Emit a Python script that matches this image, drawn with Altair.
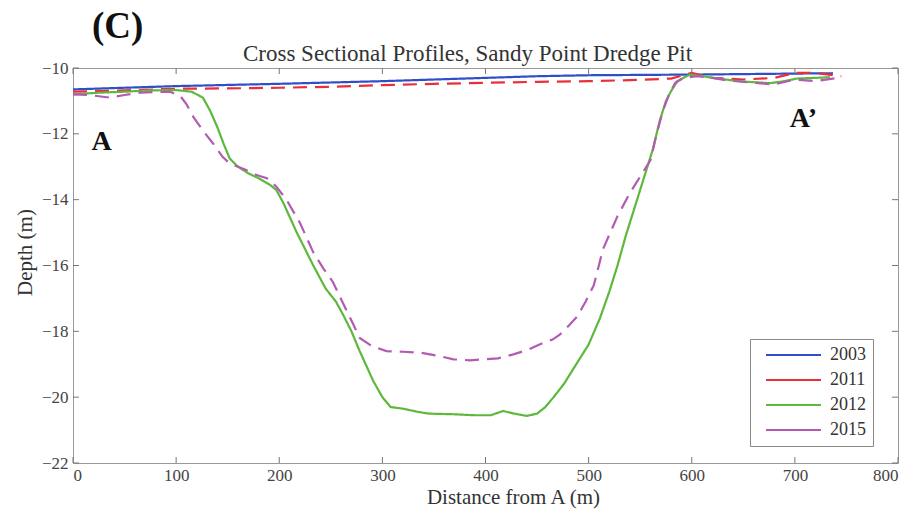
import altair as alt
import pandas as pd

years = ["2003", "2011", "2012", "2015"]
colors = ["#2f4fc9", "#e8303a", "#5db83c", "#b35bb3"]
styles = ["solid", "dashed", "solid", "dashed"]

x_2003 = [0, 100, 200, 300, 400, 450, 500, 600, 700, 737]
y_2003 = [-10.65, -10.55, -10.48, -10.4, -10.3, -10.25, -10.22, -10.2, -10.17, -10.16]

x_2011 = [0, 50, 100, 150, 200, 250, 300, 350, 400, 450, 500, 550, 580, 600, 620, 650, 680, 700, 720, 745]
y_2011 = [-10.72, -10.68, -10.63, -10.62, -10.6, -10.57, -10.52, -10.48, -10.45, -10.42, -10.4, -10.36, -10.32,
          -10.15, -10.3, -10.35, -10.3, -10.15, -10.15, -10.25]

x_2012 = [0, 25, 50, 75, 100, 115, 126, 133, 140, 146, 152, 160, 170, 180, 191, 197, 204, 217, 233, 245, 255,
          262, 270, 278, 291, 300, 308, 320, 335, 345, 370, 390, 405, 417, 428, 440, 450, 458, 466, 476, 488,
          500, 511, 520, 528, 536, 547, 553, 562, 569, 575, 580, 586, 598, 610, 621, 640, 654, 676, 690, 702,
          720, 734]
y_2012 = [-10.8, -10.75, -10.72, -10.68, -10.67, -10.72, -10.9, -11.3, -11.8, -12.3, -12.75, -13.0, -13.2,
          -13.35, -13.55, -13.7, -14.1, -15.0, -16.0, -16.7, -17.1, -17.5, -18.0, -18.6, -19.5, -20.0, -20.3,
          -20.35, -20.45, -20.5, -20.52, -20.55, -20.55, -20.42, -20.5, -20.57, -20.5, -20.3, -20.0, -19.6,
          -19.0, -18.4, -17.6, -16.8, -16.0, -15.1, -14.0, -13.4, -12.5, -11.6, -11.0, -10.7, -10.4, -10.2,
          -10.25, -10.3, -10.38, -10.42, -10.46, -10.4, -10.32, -10.3, -10.28]

x_2015 = [0, 15, 36, 50, 65, 80, 94, 104, 110, 117, 126, 136, 145, 152, 160, 168, 178, 188, 197, 207, 220,
          233, 243, 252, 265, 272, 278, 290, 304, 320, 337, 355, 369, 385, 398, 412, 427, 442, 456, 465, 472,
          480, 489, 497, 505, 514, 521, 528, 540, 550, 560, 566, 572, 578, 584, 592, 605, 620, 635, 660, 680,
          700, 720, 741]
y_2015 = [-10.8, -10.82, -10.9, -10.82, -10.75, -10.73, -10.72, -10.85, -11.1, -11.5, -11.9, -12.3, -12.7,
          -12.9, -13.0, -13.1, -13.25, -13.35, -13.6, -14.0, -14.7, -15.6, -16.1, -16.5, -17.35, -17.8, -18.2,
          -18.45, -18.6, -18.62, -18.65, -18.75, -18.85, -18.88, -18.85, -18.82, -18.7, -18.55, -18.35,
          -18.25, -18.1, -17.85, -17.55, -17.1, -16.6, -15.5, -15.0, -14.5, -13.8, -13.3, -12.8, -12.0,
          -11.3, -10.8, -10.45, -10.3, -10.25, -10.3, -10.38, -10.45, -10.5, -10.35, -10.4, -10.3]

x_ticks = [0, 100, 200, 300, 400, 500, 600, 700, 800]
y_ticks = [-22, -20, -18, -16, -14, -12, -10]

label_text = ["A", "A\u2019"]
label_x = [18, 695]
label_y = [-12.49, -11.79]

title_text = "Cross Sectional Profiles, Sandy Point Dredge Pit"
panel_text = "(C)"

series = [(years[0], x_2003, y_2003, styles[0]), (years[1], x_2011, y_2011, styles[1]),
          (years[2], x_2012, y_2012, styles[2]), (years[3], x_2015, y_2015, styles[3])]
rows = []
for yr, xs, ys, st in series:
    for i, (xv, yv) in enumerate(zip(xs, ys)):
        rows.append({"year": yr, "distance": xv, "depth": yv, "style": st, "i": i})
df = pd.DataFrame(rows)

W, H = 825, 395
FONT = "Liberation Serif"
xscale = alt.Scale(domain=[0, 800], nice=False, zero=False)
yscale = alt.Scale(domain=[-22, -10], nice=False, zero=False)

lines = alt.Chart(df).mark_line(strokeWidth=2.2, strokeCap="butt").encode(
    x=alt.X("distance:Q", scale=xscale,
            axis=alt.Axis(values=x_ticks, format="d", title="Distance from A (m)",
                          labelPadding=4, titleX=440, titleY=40, titleBaseline="alphabetic")),
    y=alt.Y("depth:Q", scale=yscale,
            axis=alt.Axis(values=y_ticks, format="d", title="Depth (m)", labelPadding=5,
                          titleX=-42, titleY=184, titleAngle=270, titleBaseline="alphabetic",
                          titleAlign="center")),
    color=alt.Color("year:N", scale=alt.Scale(domain=years, range=colors),
                    legend=alt.Legend(title=None, orient="none", legendX=677, legendY=271,
                                      symbolType="M0,0H10", symbolSize=121, symbolStrokeWidth=2,
                                      labelFont=FONT, labelFontSize=18, labelColor="#333",
                                      labelOffset=55, rowPadding=7, padding=7,
                                      strokeColor="#888", fillColor="white")),
    strokeDash=alt.StrokeDash("style:N", scale=alt.Scale(domain=["solid", "dashed"], range=[[1, 0], [14, 8]]),
                              legend=None),
    order=alt.Order("i:Q"),
)

xt = pd.DataFrame({"distance": x_ticks})
yt = pd.DataFrame({"depth": y_ticks})
tick_color = "#777"
bottom_ticks = alt.Chart(xt).mark_rule(color=tick_color).encode(
    x=alt.X("distance:Q", scale=xscale), y=alt.value(H), y2=alt.value(H - 6))
top_ticks = alt.Chart(xt).mark_rule(color=tick_color).encode(
    x=alt.X("distance:Q", scale=xscale), y=alt.value(0), y2=alt.value(6))
left_ticks = alt.Chart(yt).mark_rule(color=tick_color).encode(
    y=alt.Y("depth:Q", scale=yscale), x=alt.value(0), x2=alt.value(6))
right_ticks = alt.Chart(yt).mark_rule(color=tick_color).encode(
    y=alt.Y("depth:Q", scale=yscale), x=alt.value(W), x2=alt.value(W - 6))

ann = alt.Chart(pd.DataFrame({"text": label_text, "distance": label_x, "depth": label_y})).mark_text(
    font=FONT, fontSize=28, fontWeight="bold", align="left", baseline="alphabetic", color="#111"
).encode(x=alt.X("distance:Q", scale=xscale), y=alt.Y("depth:Q", scale=yscale), text="text:N")

panel = alt.Chart(pd.DataFrame({"text": [panel_text]})).mark_text(
    font=FONT, fontSize=37, fontWeight="bold", align="left", baseline="alphabetic", color="#111"
).encode(x=alt.value(19), y=alt.value(-30), text="text:N")

title = alt.Chart(pd.DataFrame({"text": [title_text]})).mark_text(
    font=FONT, fontSize=23, align="center", baseline="alphabetic", color="#333"
).encode(x=alt.value(394.5), y=alt.value(-7), text="text:N")

chart = alt.layer(lines, bottom_ticks, top_ticks, left_ticks, right_ticks, ann, panel, title).properties(
    width=W, height=H,
    autosize=alt.AutoSizeParams(type="none"),
    padding={"left": 73, "top": 68, "right": 22, "bottom": 47},
    background="white",
).configure_view(stroke="#999", strokeWidth=1).configure_axis(
    domain=False, grid=False, ticks=False, labelFont=FONT, labelFontSize=17, labelColor="#444",
    titleFont=FONT, titleFontSize=21, titleFontWeight="normal", titleColor="#333",
)

chart.save("out.html", embed_options={"renderer": "svg", "actions": False})
